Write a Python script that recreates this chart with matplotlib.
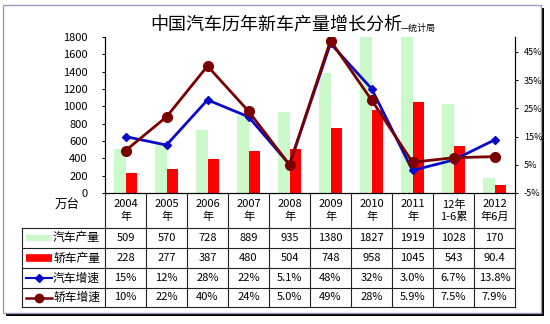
import matplotlib
matplotlib.use("Agg")
from matplotlib import pyplot as plt
from matplotlib.patches import Rectangle

plt.rcParams['font.family'] = ['Noto Sans CJK SC', 'DejaVu Sans']

# data
years = ["2004\n年", "2005\n年", "2006\n年", "2007\n年", "2008\n年",
         "2009\n年", "2010\n年", "2011\n年", "12年\n1-6累", "2012\n年6月"]
car_prod = [509, 570, 728, 889, 935, 1380, 1827, 1919, 1028, 170]
sedan_prod = [228, 277, 387, 480, 504, 748, 958, 1045, 543, 90.4]
car_growth_txt = ["15%", "12%", "28%", "22%", "5.1%", "48%", "32%", "3.0%", "6.7%", "13.8%"]
sedan_growth_txt = ["10%", "22%", "40%", "24%", "5.0%", "49%", "28%", "5.9%", "7.5%", "7.9%"]
row_labels = ["汽车产量", "轿车产量", "汽车增速", "轿车增速"]

car_growth = [float(s.rstrip('%')) for s in car_growth_txt]
sedan_growth = [float(s.rstrip('%')) for s in sedan_growth_txt]

GREEN = '#ccf9cc'
RED = '#ff0000'
BLUE = '#0a0ac8'
DARKRED = '#7a0000'

W, H = 550, 324
fig = plt.figure(figsize=(5.5, 3.24), dpi=100)


def px(x0, y0, x1, y1):
    # pixel box -> figure rect
    return [x0 / W, 1 - y1 / H, (x1 - x0) / W, (y1 - y0) / H]


# frame with shadow
fig.patches.append(Rectangle((6 / W, 1 - 316 / H), 538 / W, 308 / H, transform=fig.transFigure,
                             facecolor='black', edgecolor='none', zorder=-2))
fig.patches.append(Rectangle((3 / W, 1 - 313 / H), 538 / W, 308 / H, transform=fig.transFigure,
                             facecolor='white', edgecolor='#9a9ac0', lw=1, zorder=-1))

# main chart
ax = fig.add_axes(px(105, 37, 515, 193))
ax.set_facecolor('none')
xs = list(range(len(car_prod)))
bw = 0.27
ax.bar([x - bw / 2 for x in xs], car_prod, width=bw, color=GREEN, zorder=2)
ax.bar([x + bw / 2 for x in xs], sedan_prod, width=bw, color=RED, zorder=2)
ax.set_xlim(-0.5, len(xs) - 0.5)
ax.set_ylim(0, 1800)
ax.set_yticks(range(0, 1801, 200))
ax.set_xticks([])
ax.spines['top'].set_visible(False)
for s in ['left', 'bottom', 'right']:
    ax.spines[s].set_linewidth(0.8)
ax.tick_params(axis='y', labelsize=8, length=2.5, width=0.7, pad=10)

ax2 = ax.twinx()
ax2.plot(xs, car_growth, color=BLUE, lw=2, marker='D', ms=4, zorder=3)
ax2.plot(xs, sedan_growth, color=DARKRED, lw=2, marker='o', ms=7, zorder=4)
ax2.set_ylim(-5, 50.3)
ticks = list(range(-5, 50, 10))
ax2.set_yticks(ticks)
ax2.set_yticklabels([f"{t}%" for t in ticks])
ax2.spines['top'].set_visible(False)
ax2.spines['right'].set_linewidth(0.8)
ax2.tick_params(axis='y', labelsize=6.5, length=2.5, width=0.7, pad=4)

# title
fig.text(150 / W, 1 - 25 / H, "中国汽车历年新车产量增长分析", fontsize=13, ha='left', va='center')
fig.text(401 / W, 1 - 28 / H, "—统计局", fontsize=6.5, ha='left', va='center')
fig.text(67 / W, 1 - 204 / H, "万台", fontsize=9, ha='center', va='center')

# data table below the chart
tax = fig.add_axes(px(22, 193, 515, 307))
lab_w = 83 / 41
x_left = -0.5 - lab_w
x_right = len(xs) - 0.5
tax.set_xlim(x_left, x_right)
row_edges = [0, 35, 55, 75, 95, 114]
tax.set_ylim(114, 0)
tax.axis('off')
lc = '#222222'
for y in row_edges[1:]:
    tax.plot([x_left, x_right], [y, y], color=lc, lw=0.8, clip_on=False)
for i in range(len(xs) + 1):
    tax.plot([i - 0.5, i - 0.5], [0, 114], color=lc, lw=0.8, clip_on=False)
tax.plot([x_left, x_left], [35, 114], color=lc, lw=0.8, clip_on=False)

for i, lab in enumerate(years):
    tax.text(i, 17.5, lab, ha='center', va='center', fontsize=8, linespacing=1.25)

rows = [[f"{v:g}" for v in car_prod], [f"{v:g}" for v in sedan_prod],
        car_growth_txt, sedan_growth_txt]
centers = [(row_edges[k + 1] + row_edges[k + 2]) / 2 for k in range(4)]
for r, yc in zip(rows, centers):
    for i, s in enumerate(r):
        tax.text(i, yc, s, ha='center', va='center', fontsize=8)

# row labels with legend keys
sx0 = x_left + 4 / 41
sx1 = x_left + 30 / 41
sxm = (sx0 + sx1) / 2
tax.plot([sx0, sx1], [centers[0], centers[0]], color=GREEN, lw=4.5, solid_capstyle='butt')
tax.plot([sx0, sx1], [centers[1], centers[1]], color=RED, lw=5.5, solid_capstyle='butt')
tax.plot([sx0, sx1], [centers[2], centers[2]], color=BLUE, lw=1.5)
tax.plot([sxm], [centers[2]], color=BLUE, marker='D', ms=4)
tax.plot([sx0, sx1], [centers[3], centers[3]], color=DARKRED, lw=1.8)
tax.plot([sxm], [centers[3]], color=DARKRED, marker='o', ms=6)
for lab, yc in zip(row_labels, centers):
    tax.text(-0.5 - 5 / 41, yc, lab, ha='right', va='center', fontsize=8.5)

plt.savefig("out.png", dpi=100)
